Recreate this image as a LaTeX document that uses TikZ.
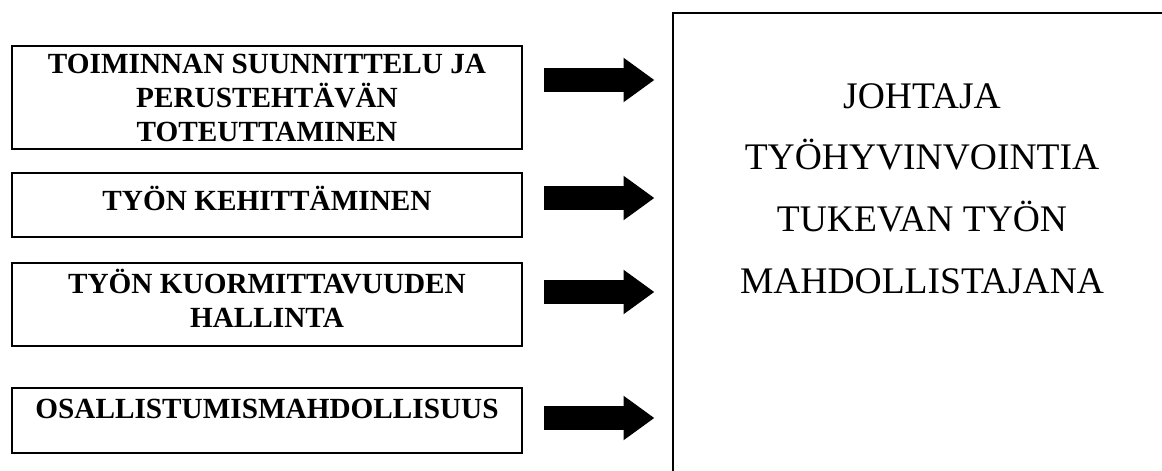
\documentclass[tikz,border=0pt]{standalone}
\usepackage{fontspec}
\setmainfont{Liberation Serif}
\usetikzlibrary{positioning}
\usetikzlibrary{shapes.arrows}

\begin{document}
\begin{tikzpicture}[
  x=0.25mm, y=-0.25mm,
  box/.style = {draw, line width=0.6mm, anchor=north, minimum width=127.5mm,
    inner xsep=4pt, inner ysep=0pt, align=center,
    font=\fontsize{20.8}{24.2}\selectfont\bfseries},
  fat arrow/.style = {single arrow, fill, draw=none, inner xsep=0pt, inner ysep=2.9mm,
    minimum height=27.5mm, minimum width=11mm,
    single arrow head extend=2.6mm, single arrow tip angle=72,
    single arrow head indent=0pt},
  lead/.style = {align=center, inner sep=0pt,
    font=\fontsize{26.7}{44}\selectfont}
  ]
	\useasboundingbox (0,0) rectangle (1162,471);

	\node[box, minimum height=25.75mm] (@1) at (267,45)
		{TOIMINNAN SUUNNITTELU JA\\PERUSTEHTÄVÄN\\TOTEUTTAMINEN};
	\node[box, text height=9.25mm, text depth=6.75mm] (@2) at (267,172)
		{TYÖN KEHITTÄMINEN};
	\node[box, minimum height=20.75mm] (@3) at (267,262)
		{TYÖN KUORMITTAVUUDEN\\HALLINTA\rule[-3.2mm]{0pt}{3.2mm}};
	\node[box, text height=7.5mm, text depth=8.75mm] (@4) at (267,387)
		{OSALLISTUMISMAHDOLLISUUS};

	\node[fat arrow] (a1) at (591,80) {};
	\node[fat arrow] (a2) at (591,198) {};
	\node[fat arrow] (a3) at (591,292) {};
	\node[fat arrow] (a4) at (591,418) {};

	% open to the right and below: the panel runs off the page
	\node[draw, line width=0.6mm, anchor=north west, minimum width=130mm,
		minimum height=125mm] (panel) at (672,12) {};
	\node[lead, anchor=north] (role) at (922,83)
		{JOHTAJA\\TYÖHYVINVOINTIA\\TUKEVAN TYÖN\\MAHDOLLISTAJANA};

\end{tikzpicture}
\end{document}
